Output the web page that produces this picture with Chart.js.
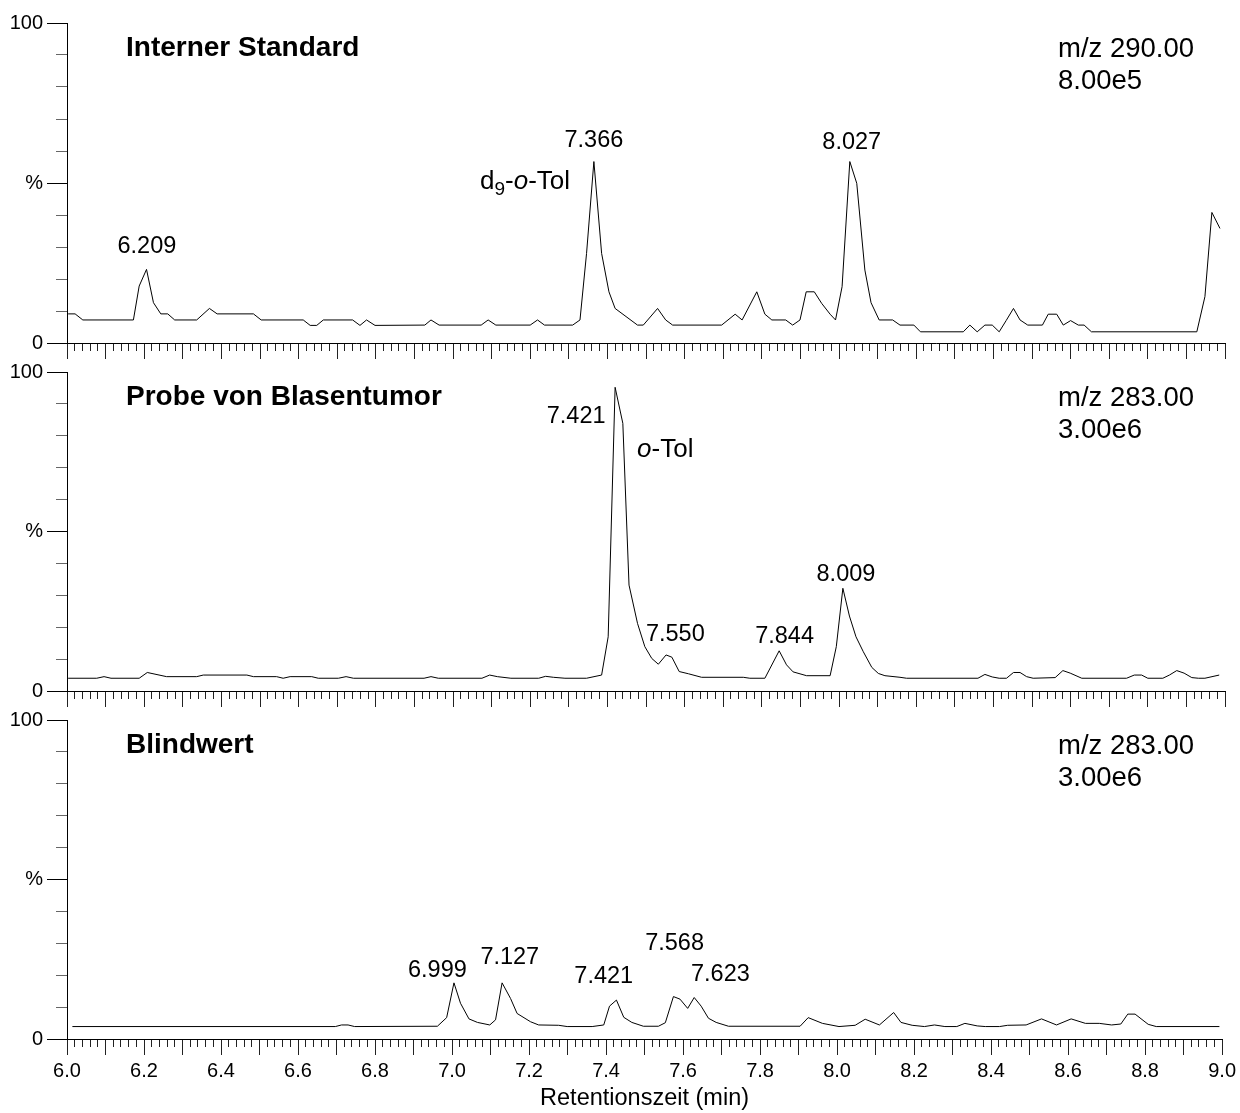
<!DOCTYPE html>
<html>
<head>
<meta charset="utf-8">
<script src="https://cdn.jsdelivr.net/npm/chart.js@4/dist/chart.umd.min.js"></script>
<style>
  body { margin: 0; background: #fff; }
  #wrap { position: relative; width: 1240px; height: 1113px; }
  canvas { position: absolute; left: 0; }
</style>
</head>
<body>
<div id="wrap">
  <canvas id="panel1" width="1240" height="370" style="top:0px"></canvas>
  <canvas id="panel2" width="1240" height="370" style="top:349px"></canvas>
  <canvas id="panel3" width="1240" height="416" style="top:697px"></canvas>
</div>
<script>
// --- Daten (Retentionszeit in min, Intensität in %) ---

// Interner Standard, m/z 290.00
const timeIS = [6.003, 6.021, 6.041, 6.172, 6.187, 6.206, 6.224, 6.243, 6.261, 6.279, 6.336, 6.369, 6.389, 6.483, 6.503,
  6.612, 6.630, 6.647, 6.664, 6.740, 6.759, 6.776, 6.798, 6.927, 6.943, 6.964, 7.073, 7.091, 7.111, 7.200, 7.219, 7.237,
  7.310, 7.329, 7.346, 7.365, 7.385, 7.404, 7.420, 7.478, 7.493, 7.530, 7.551, 7.569, 7.696, 7.731, 7.749, 7.787, 7.808,
  7.826, 7.862, 7.880, 7.899, 7.915, 7.936, 7.955, 7.977, 7.991, 8.008, 8.028, 8.046, 8.067, 8.083, 8.104, 8.139, 8.158,
  8.194, 8.211, 8.322, 8.339, 8.358, 8.378, 8.397, 8.415, 8.433, 8.452, 8.469, 8.489, 8.527, 8.542, 8.564, 8.581, 8.600,
  8.620, 8.635, 8.654, 8.927, 8.948, 8.966, 8.987];
const intIS = [9.1, 9.1, 7.2, 7.2, 17.8, 23.0, 12.6, 9.1, 9.1, 7.2, 7.2, 10.8, 9.1, 9.1, 7.2,
  7.2, 5.5, 5.5, 7.2, 7.2, 5.5, 7.2, 5.5, 5.6, 7.2, 5.6, 5.6, 7.2, 5.6, 5.6, 7.2, 5.6,
  5.6, 7.2, 28.0, 56.7, 28.0, 16.0, 10.8, 5.6, 5.6, 10.8, 7.2, 5.6, 5.6, 9.0, 7.2, 16.0, 9.0,
  7.2, 7.2, 5.6, 7.2, 16.0, 16.0, 12.4, 9.0, 7.2, 17.6, 56.7, 49.9, 22.8, 12.6, 7.2, 7.2, 5.6,
  5.6, 3.5, 3.5, 5.6, 3.5, 5.6, 5.6, 3.5, 7.0, 10.8, 7.2, 5.6, 5.6, 9.0, 9.0, 5.6, 7.0,
  5.6, 5.6, 3.5, 3.5, 14.5, 40.8, 35.8];

// Probe von Blasentumor, m/z 283.00
const timeProbe = [6.003, 6.077, 6.096, 6.114, 6.187, 6.208, 6.258, 6.336, 6.353, 6.466, 6.483, 6.543, 6.560, 6.578,
  6.634, 6.651, 6.703, 6.723, 6.742, 6.925, 6.943, 6.962, 7.075, 7.095, 7.115, 7.150, 7.222, 7.240, 7.260, 7.290,
  7.346, 7.385, 7.402, 7.420, 7.440, 7.456, 7.478, 7.497, 7.515, 7.532, 7.552, 7.567, 7.586, 7.610, 7.644, 7.752,
  7.769, 7.808, 7.845, 7.864, 7.881, 7.916, 7.977, 7.993, 8.010, 8.027, 8.044, 8.063, 8.085, 8.102, 8.119, 8.158,
  8.175, 8.360, 8.378, 8.397, 8.415, 8.434, 8.452, 8.469, 8.486, 8.503, 8.560, 8.580, 8.599, 8.629, 8.745, 8.765,
  8.784, 8.800, 8.839, 8.856, 8.875, 8.894, 8.914, 8.931, 8.948, 8.985];
const intProbe = [4.0, 4.0, 4.5, 4.0, 4.0, 5.8, 4.5, 4.5, 5.0, 5.0, 4.5, 4.5, 4.0, 4.5,
  4.5, 4.0, 4.0, 4.5, 4.0, 4.0, 4.5, 4.0, 4.0, 5.0, 4.5, 4.0, 4.0, 4.6, 4.3, 4.0,
  4.0, 5.0, 17.0, 95.2, 83.9, 33.2, 21.2, 13.9, 10.2, 8.4, 11.3, 10.6, 6.1, 5.4, 4.3, 4.3,
  4.0, 4.0, 12.6, 8.2, 6.0, 4.8, 4.8, 13.9, 32.2, 23.5, 17.0, 12.3, 7.4, 5.5, 4.8, 4.3,
  4.0, 4.0, 5.2, 4.4, 4.0, 4.0, 5.8, 5.8, 4.5, 4.0, 4.2, 6.4, 5.6, 4.0, 4.0, 5.0,
  5.0, 4.0, 4.0, 5.0, 6.4, 5.6, 4.2, 4.0, 4.0, 5.0];

// Blindwert, m/z 283.00
const timeBlank = [6.014, 6.697, 6.713, 6.730, 6.747, 6.962, 6.986, 7.005, 7.022, 7.044, 7.066, 7.098, 7.113, 7.130,
  7.152, 7.169, 7.204, 7.225, 7.277, 7.299, 7.364, 7.394, 7.409, 7.427, 7.446, 7.467, 7.497, 7.536, 7.554, 7.575,
  7.592, 7.612, 7.629, 7.647, 7.666, 7.686, 7.718, 7.904, 7.925, 7.962, 8.005, 8.047, 8.073, 8.110, 8.147, 8.166,
  8.195, 8.227, 8.253, 8.280, 8.311, 8.332, 8.364, 8.385, 8.422, 8.443, 8.491, 8.531, 8.570, 8.608, 8.645, 8.681,
  8.713, 8.737, 8.755, 8.774, 8.808, 8.829, 8.993];
const intBlank = [3.9, 3.9, 4.4, 4.4, 3.9, 4.0, 6.7, 17.6, 11.2, 6.3, 5.2, 4.4, 6.0, 17.6,
  12.7, 8.0, 5.4, 4.4, 4.3, 3.9, 3.9, 4.4, 10.3, 12.2, 6.8, 5.2, 4.0, 4.0, 5.1, 13.3,
  12.5, 9.6, 13.0, 10.3, 6.5, 5.2, 4.0, 4.0, 6.7, 4.9, 3.9, 4.3, 6.2, 4.4, 8.3, 5.2,
  4.3, 3.9, 4.4, 3.9, 3.9, 4.9, 4.1, 3.9, 3.9, 4.3, 4.4, 6.3, 4.4, 6.3, 4.9, 4.9,
  4.4, 4.7, 7.8, 7.8, 4.6, 3.9, 3.9];

// beschriftete Peaks
const peaksIS = ['6.209', '7.366', '8.027'];
const peaksProbe = ['7.421', '7.550', '7.844', '8.009'];
const peaksBlank = ['6.999', '7.127', '7.421', '7.568', '7.623'];

// Achsen
const yTickValues = [0, 50, 100];
const yTickText = ['0', '%', '100'];
const xTitle = 'Retentionszeit (min)';

// --- Darstellung ---
const FONT = "'Liberation Sans', Arial, Helvetica, sans-serif";

// wo die Peak-Beschriftungen stehen (min, %)
const peaksISpos = [[6.207, 30.3], [7.365, 63.4], [8.033, 62.8]];
const peaksProbePos = [[7.319, 86.2], [7.576, 17.6], [7.859, 17.1], [8.018, 36.4]];
const peaksBlankPos = [[6.962, 21.6], [7.150, 25.4], [7.394, 19.7], [7.578, 29.9], [7.697, 20.1]];

function isMajorX(v) {
  return Math.round(v * 50) % 5 === 0;
}
function isMajorY(v) {
  return yTickValues.indexOf(v) >= 0;
}

// Texte im Diagramm: Titel, m/z, Peaks, Substanzname
function textLayer(info) {
  return {
    id: 'textLayer',
    afterDraw(chart) {
      const ctx = chart.ctx;
      const a = chart.chartArea;
      const xs = chart.scales.x;
      const ys = chart.scales.y;
      ctx.save();
      ctx.fillStyle = '#000';
      ctx.textBaseline = 'middle';
      ctx.textAlign = 'left';

      ctx.font = 'bold 28px ' + FONT;
      ctx.fillText(info.title, a.left + 59, a.top + 25);

      ctx.font = '27.5px ' + FONT;
      ctx.fillText(info.mz, a.left + 991, a.top + 26.5);
      ctx.fillText(info.scale, a.left + 991, a.top + 58.7);

      ctx.font = '23.5px ' + FONT;
      ctx.textAlign = 'center';
      info.peaks.forEach(function (t, i) {
        ctx.fillText(t, xs.getPixelForValue(info.peakPos[i][0]), ys.getPixelForValue(info.peakPos[i][1]));
      });

      if (info.name) {
        ctx.textAlign = 'left';
        let x = xs.getPixelForValue(info.namePos[0]);
        const y = ys.getPixelForValue(info.namePos[1]);
        info.name.forEach(function (r) {
          ctx.font = (r.it ? 'italic ' : '') + (r.sub ? '19px ' : '26px ') + FONT;
          ctx.fillText(r.t, x, r.sub ? y + 8 : y);
          x += ctx.measureText(r.t).width;
        });
      }
      ctx.restore();
    }
  };
}

function makePanel(canvasId, times, values, info) {
  const points = times.map(function (t, i) { return { x: t, y: values[i] }; });
  return new Chart(document.getElementById(canvasId), {
    type: 'line',
    data: {
      datasets: [{
        data: points,
        borderColor: '#000',
        borderWidth: 1,
        pointRadius: 0,
        tension: 0,
        fill: false
      }]
    },
    options: {
      responsive: false,
      animation: false,
      events: [],
      layout: { padding: { top: 23, right: 15, left: 0, bottom: 0 } },
      plugins: { legend: { display: false }, tooltip: { enabled: false } },
      scales: {
        x: {
          type: 'linear',
          min: 6,
          max: 9,
          afterFit: function (s) { s.height = info.axisHeight; },
          border: { color: '#000', width: 1 },
          grid: {
            drawOnChartArea: false,
            tickLength: 16,
            tickWidth: 1,
            tickColor: '#222',
            tickBorderDash: function (c) { return (c.tick && isMajorX(c.tick.value)) ? [] : [7, 40]; }
          },
          ticks: {
            stepSize: 0.02,
            autoSkip: false,
            maxRotation: 0,
            padding: 4,
            color: '#000',
            font: { family: FONT, size: 20 },
            callback: function (v) {
              return info.labels && Math.round(v * 50) % 10 === 0 ? v.toFixed(1) : '';
            }
          },
          title: {
            display: info.labels,
            text: xTitle,
            color: '#000',
            font: { family: FONT, size: 23.5 },
            padding: { top: 4, bottom: 0 }
          }
        },
        y: {
          min: 0,
          max: 100,
          afterFit: function (s) { s.width = 67; },
          border: { color: '#000', width: 1 },
          grid: {
            drawOnChartArea: false,
            tickLength: 20,
            tickWidth: 1,
            tickColor: function (c) { return (c.tick && isMajorY(c.tick.value)) ? '#000' : '#666'; },
            tickBorderDash: function (c) { return (c.tick && isMajorY(c.tick.value)) ? [] : [11, 9]; },
            tickBorderDashOffset: function (c) { return (c.tick && isMajorY(c.tick.value)) ? 0 : 11; }
          },
          ticks: {
            stepSize: 10,
            padding: 4,
            color: '#000',
            font: { family: FONT, size: 20 },
            callback: function (v) {
              const k = yTickValues.indexOf(v);
              return k >= 0 ? yTickText[k] : '';
            }
          }
        }
      }
    },
    plugins: [textLayer(info)]
  });
}

makePanel('panel1', timeIS, intIS, {
  title: 'Interner Standard', mz: 'm/z 290.00', scale: '8.00e5',
  peaks: peaksIS, peakPos: peaksISpos,
  name: [{ t: 'd' }, { t: '9', sub: true }, { t: '-' }, { t: 'o', it: true }, { t: '-Tol' }],
  namePos: [7.070, 50.3],
  labels: false, axisHeight: 27
});
makePanel('panel2', timeProbe, intProbe, {
  title: 'Probe von Blasentumor', mz: 'm/z 283.00', scale: '3.00e6',
  peaks: peaksProbe, peakPos: peaksProbePos,
  name: [{ t: 'o', it: true }, { t: '-Tol' }],
  namePos: [7.477, 75.5],
  labels: false, axisHeight: 28
});
makePanel('panel3', timeBlank, intBlank, {
  title: 'Blindwert', mz: 'm/z 283.00', scale: '3.00e6',
  peaks: peaksBlank, peakPos: peaksBlankPos,
  name: null,
  labels: true, axisHeight: 74
});
</script>
</body>
</html>
